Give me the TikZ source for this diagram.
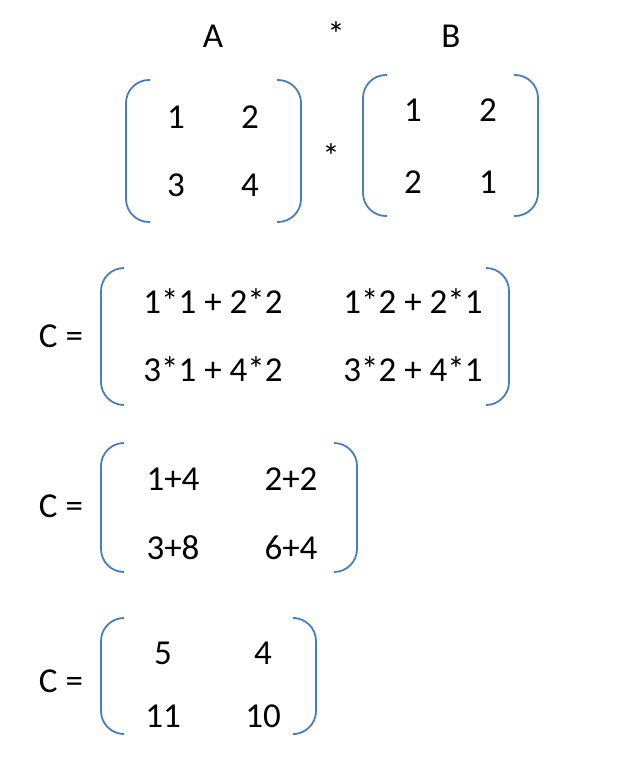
\documentclass[tikz,border=0pt]{standalone}
\usepackage{fontspec}
\setmainfont{Carlito}
\definecolor{bracketblue}{RGB}{74,126,187}

\begin{document}
\begin{tikzpicture}[x=1pt,y=-1pt,
    every node/.style={font=\fontsize{35}{42}\selectfont, inner sep=0pt},
    bracket/.style={draw=bracketblue, line width=1.8pt, rounded corners=23pt}]
        \useasboundingbox (0,0) rectangle (627,759);
        % titles
        \node (titleA) at (213,36) {A};
        \node (titleMul) at (336,34) {*};
        \node (titleB) at (451,36) {B};
        % matrix A
        \draw[bracket] (150,80) -- (126,80) -- (126,222) -- (150,222);
        \draw[bracket] (277,80) -- (301,80) -- (301,222) -- (277,222);
        \node (a11) at (176,117) {1};
        \node (a12) at (250,117) {2};
        \node (a21) at (176,185) {3};
        \node (a22) at (250,185) {4};
        \node (mul) at (331,156) {*};
        % matrix B
        \draw[bracket] (387,75) -- (363,75) -- (363,216) -- (387,216);
        \draw[bracket] (514,75) -- (538,75) -- (538,216) -- (514,216);
        \node (b11) at (413,110) {1};
        \node (b12) at (488,110) {2};
        \node (b21) at (413,182) {2};
        \node (b22) at (488,182) {1};
        % C, first step
        \node (eqOne) at (61,336) {C =};
        \draw[bracket] (124,268) -- (101,268) -- (101,405) -- (124,405);
        \draw[bracket] (486,268) -- (509,268) -- (509,405) -- (486,405);
        \node (c11) at (213,301) {1*1 + 2*2};
        \node (c12) at (413,301) {1*2 + 2*1};
        \node (c21) at (213,369) {3*1 + 4*2};
        \node (c22) at (413,369) {3*2 + 4*1};
        % C, second step
        \node (eqTwo) at (61,506) {C =};
        \draw[bracket] (124,443) -- (101,443) -- (101,572) -- (124,572);
        \draw[bracket] (334,443) -- (357,443) -- (357,572) -- (334,572);
        \node (d11) at (173,479) {1+4};
        \node (d12) at (291,479) {2+2};
        \node (d21) at (173,548) {3+8};
        \node (d22) at (291,548) {6+4};
        % C, result
        \node (eqThree) at (61,681) {C =};
        \draw[bracket] (122,618) -- (101,618) -- (101,734) -- (122,734);
        \draw[bracket] (296,618) -- (316,618) -- (316,734) -- (296,734);
        \node (e11) at (163,653) {5};
        \node (e12) at (263,653) {4};
        \node (e21) at (163,716) {11};
        \node (e22) at (263,716) {10};
    \end{tikzpicture}
\end{document}
